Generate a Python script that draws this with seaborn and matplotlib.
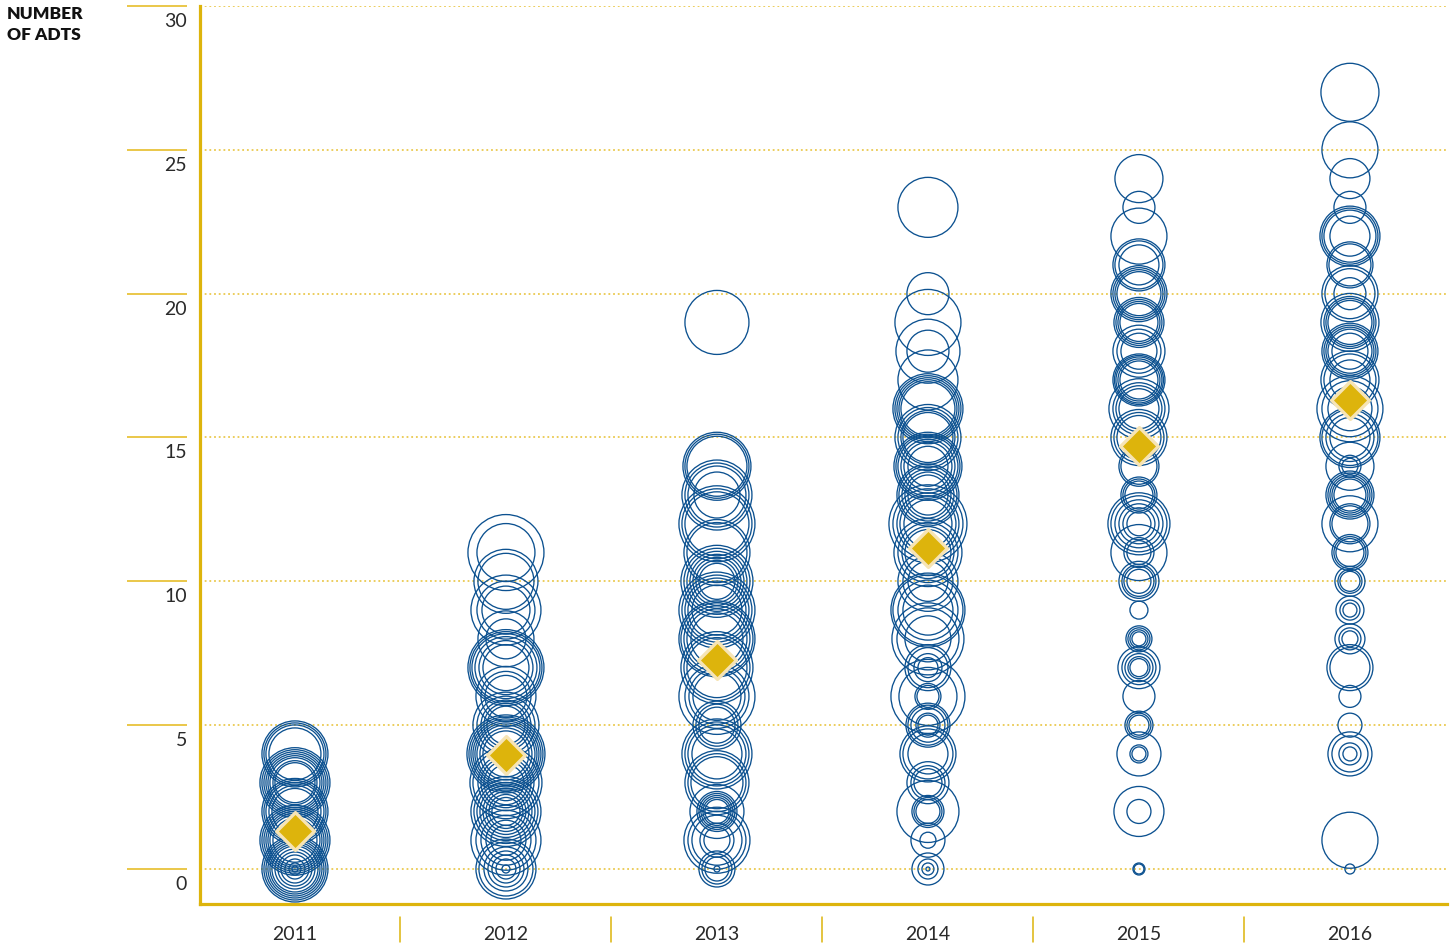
import pandas as pd
import seaborn as sns
import matplotlib.pyplot as plt
import matplotlib.transforms as mtransforms

years = ["2011", "2012", "2013", "2014", "2015", "2016"]

# circle rows per year: level (number of ADTs) and the ring diameters seen at that level (px)
levels_2011 = [0, 1, 2, 3, 4]
diams_2011 = [[66, 62, 58, 54, 50, 46, 40, 34, 28, 20, 12, 6],
              [70, 66, 62, 58, 54, 50, 44],
              [66, 62, 58, 52, 46],
              [70, 66, 62, 58, 54, 50, 44, 40],
              [66, 62, 58, 52]]

levels_2012 = [0, 1, 2, 3, 4, 5, 6, 7, 8, 9, 10, 11]
diams_2012 = [[60, 54, 44, 36, 28, 20, 8],
              [70, 60, 50, 40, 30],
              [70, 64, 58, 52, 46, 40, 34, 28],
              [72, 66, 56, 50, 44, 36],
              [78, 74, 70, 66, 62, 58, 52, 46],
              [66, 58, 50, 44, 38],
              [60, 50, 42],
              [76, 72, 68, 62, 54, 46],
              [56, 40],
              [70, 58, 48],
              [64, 56],
              [76, 58]]

levels_2013 = [0, 1, 2, 3, 4, 5, 6, 7, 8, 9, 10, 11, 12, 13, 14, 19]
diams_2013 = [[36, 30, 24, 6],
              [66, 58, 50, 34, 26],
              [54, 40, 36, 32, 28, 24],
              [64, 58, 52],
              [70, 64, 58, 50],
              [48, 42, 36],
              [76, 64, 56, 48],
              [72, 66, 60],
              [76, 72, 66, 60, 52],
              [76, 70, 64, 58, 50],
              [72, 66, 60, 54, 48, 42, 36],
              [66, 60],
              [76, 70, 64],
              [70, 64, 58, 46],
              [68, 64, 60],
              [64]]

levels_2014 = [0, 1, 2, 3, 4, 5, 6, 7, 8, 9, 10, 11, 12, 13, 14, 15, 16, 17, 18, 19, 20, 23]
diams_2014 = [[32, 20, 12, 4],
              [34, 16],
              [62, 32, 28, 24],
              [42, 34, 28],
              [56, 50, 40],
              [44, 40, 34, 24, 20],
              [74, 58, 26, 22],
              [46, 40, 28, 20],
              [72, 62, 46],
              [74, 70, 60, 50],
              [60, 50, 40],
              [68, 60, 52, 46],
              [78, 70, 62, 56, 48],
              [62, 58, 52, 46, 40],
              [68, 64, 60, 54, 48, 40],
              [66, 60, 54, 50],
              [70, 66, 62, 58, 54],
              [60],
              [64, 42],
              [66],
              [42],
              [60]]

levels_2015 = [0, 2, 4, 5, 6, 7, 8, 9, 10, 11, 12, 13, 14, 15, 16, 17, 18, 19, 20, 21, 22, 23, 24]
diams_2015 = [[12, 10],
              [50, 24],
              [44, 18, 14],
              [28, 24, 20],
              [32],
              [42, 34, 28, 22, 18],
              [26, 22, 18, 14],
              [18],
              [40, 34, 30, 24],
              [56, 30, 24],
              [62, 56, 48, 40, 32, 24],
              [36, 32, 28],
              [40, 36],
              [56, 50, 44],
              [60, 52, 46, 40],
              [52, 49, 46, 42, 38],
              [52, 44, 36],
              [50, 46, 42, 38],
              [56, 52, 48, 44],
              [52, 48, 40],
              [56],
              [32],
              [48]]

levels_2016 = [0, 1, 4, 5, 6, 7, 8, 9, 10, 11, 12, 13, 14, 15, 16, 17, 18, 19, 20, 21, 22, 23, 24, 25, 27]
diams_2016 = [[10],
              [56],
              [44, 36, 22, 14],
              [24],
              [22],
              [46, 40],
              [30, 22, 16],
              [28, 20, 14],
              [30, 24, 20],
              [36, 32, 28],
              [56, 40, 36],
              [48, 44, 40, 36, 32],
              [48, 22, 16],
              [60, 56, 48, 40],
              [66, 56, 44],
              [58, 52, 40],
              [56, 52, 48, 44, 36],
              [58, 52, 48, 44],
              [56, 50, 32],
              [46, 42],
              [60, 56, 52, 40],
              [32],
              [40],
              [56],
              [58]]

# average per year (diamonds)
means = [1.32, 3.96, 7.26, 11.16, 14.70, 16.30]

all_levels = [levels_2011, levels_2012, levels_2013, levels_2014, levels_2015, levels_2016]
all_diams = [diams_2011, diams_2012, diams_2013, diams_2014, diams_2015, diams_2016]

rows = []
for i, (lv, dm) in enumerate(zip(all_levels, all_diams)):
    for level, ds in zip(lv, dm):
        for d in ds:
            rows.append({"pos": i, "adts": level, "area": (d * 0.72) ** 2})
df = pd.DataFrame(rows)
df_mean = pd.DataFrame({"pos": range(len(years)), "adts": means})

gold = "#DDB40C"
grid_gold = "#EAC94F"
blue = "#0C5190"
txt = "#2a2a2a"

sns.set_style("white")
plt.rcParams["font.family"] = ["Lato", "DejaVu Sans"]

fig = plt.figure(figsize=(14.53, 9.45), dpi=100)
ax = fig.add_axes([200 / 1453, 1 - 905 / 945, 1247 / 1453, 898 / 945])

amin, amax = df["area"].min(), df["area"].max()
sns.scatterplot(data=df, x="pos", y="adts", size="area", sizes=(amin, amax),
                size_norm=(amin, amax), legend=False, marker="o",
                fc="none", ec=blue, linewidth=0.95, zorder=3, ax=ax)
sns.scatterplot(data=df_mean, x="pos", y="adts", marker="D", s=370,
                color=gold, ec="#F6E4B5", linewidth=2.4, zorder=5, ax=ax)

ax.set_xlim(-0.45, 5.46)
ax.set_ylim(-1.217, 30)

# dotted gridlines
for v in range(0, 31, 5):
    ax.axhline(v, color=grid_gold, linestyle=(0, (1, 1.6)), linewidth=1.3, zorder=1)

for side in ["top", "right"]:
    ax.spines[side].set_visible(False)
for side in ["left", "bottom"]:
    ax.spines[side].set_color(gold)
    ax.spines[side].set_linewidth(2.3)

# y ticks drawn as short lines left of the axis, labels beneath them
ax.set_yticks([])
ytrans = mtransforms.blended_transform_factory(ax.transAxes, ax.transData)
x0 = (127 - 200) / 1247
x1 = (187 - 200) / 1247
off = mtransforms.ScaledTranslation(0, -6 / 100, fig.dpi_scale_trans)
for v in range(0, 31, 5):
    ax.plot([x0, x1], [v, v], transform=ytrans, color="#E8C33A", linewidth=1.3,
            clip_on=False, solid_capstyle="butt")
    ax.text(x1, v, str(v), transform=ytrans + off, ha="right", va="top",
            fontsize=14, fontweight="normal", color=txt)

# x labels with separators between years
ax.set_xticks(range(len(years)))
ax.set_xticklabels(years, fontsize=14, fontweight="normal", color=txt)
ax.tick_params(axis="x", length=0, pad=15)
xtrans = mtransforms.blended_transform_factory(ax.transData, ax.transAxes)
for k in range(len(years) - 1):
    ax.plot([k + 0.5, k + 0.5], [-13 / 898, -38 / 898], transform=xtrans,
            color=gold, linewidth=1.1, clip_on=False)

ax.set_xlabel("")
ax.set_ylabel("")

fig.text(7 / 1453, 1 - 6 / 945, "NUMBER\nOF ADTS", ha="left", va="top",
         fontsize=12.5, fontweight="heavy", color="#111111", linespacing=1.4)

fig.savefig("out.png", dpi=100)
